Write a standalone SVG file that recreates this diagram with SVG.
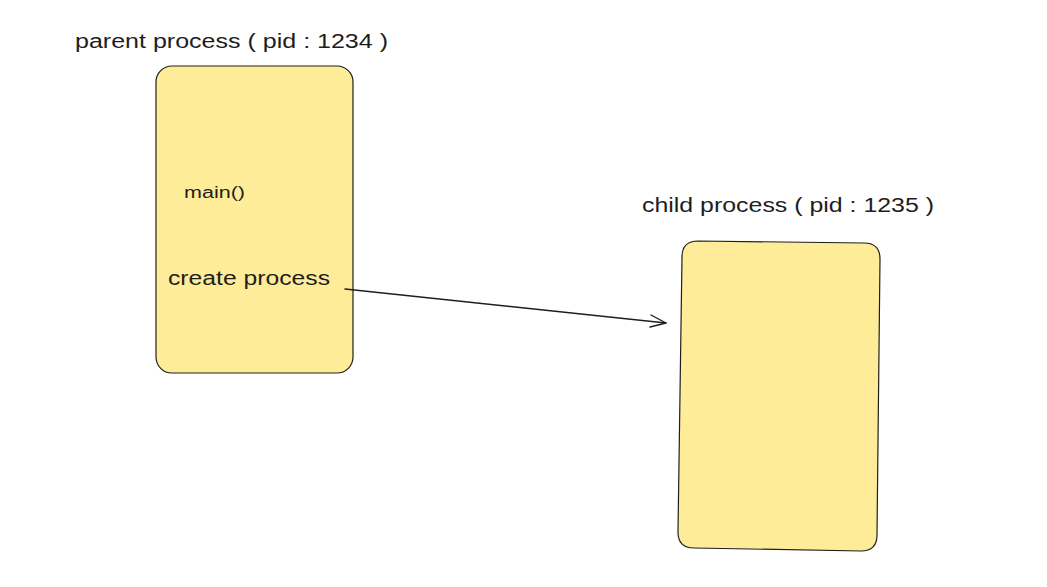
<svg xmlns="http://www.w3.org/2000/svg" width="1047" height="587" viewBox="0 0 1047 587">
<style>
.box{fill:#ffec99;stroke:#1e1e1e;stroke-width:1.2}
.t{font-family:"Liberation Sans","Open Sans",sans-serif;fill:#1e1e1e}
.edge{stroke:#1e1e1e;stroke-width:1.4;fill:none;stroke-linecap:round;stroke-linejoin:round}
</style>
<rect width="1047" height="587" fill="#ffffff"/>
<g id="parent-label"><text class="t" x="75" y="48" font-size="20" textLength="313" lengthAdjust="spacingAndGlyphs">parent process ( pid : 1234 )</text></g>
<g id="parent">
<rect class="box" x="156" y="66" width="197" height="307" rx="16" ry="16"/>
<text class="t" x="184" y="198" font-size="16" textLength="61" lengthAdjust="spacingAndGlyphs">main()</text>
<text class="t" x="168" y="285" font-size="20" textLength="162" lengthAdjust="spacingAndGlyphs">create process</text>
</g>
<g id="child-label"><text class="t" x="642" y="212" font-size="20" textLength="292" lengthAdjust="spacingAndGlyphs">child process ( pid : 1235 )</text></g>
<g id="child">
<path class="box" d="M698,241 L864,243 Q880,243 880,259 L877,535 Q877,551 861,551 L694,548 Q678,548 678,532 L682,257 Q682,241 698,241 Z"/>
</g>
<g id="connectors">
<path class="edge" d="M345,289 L666,323"/>
<path class="edge" d="M651,315 L666,323 L650,327"/>
</g>
</svg>
